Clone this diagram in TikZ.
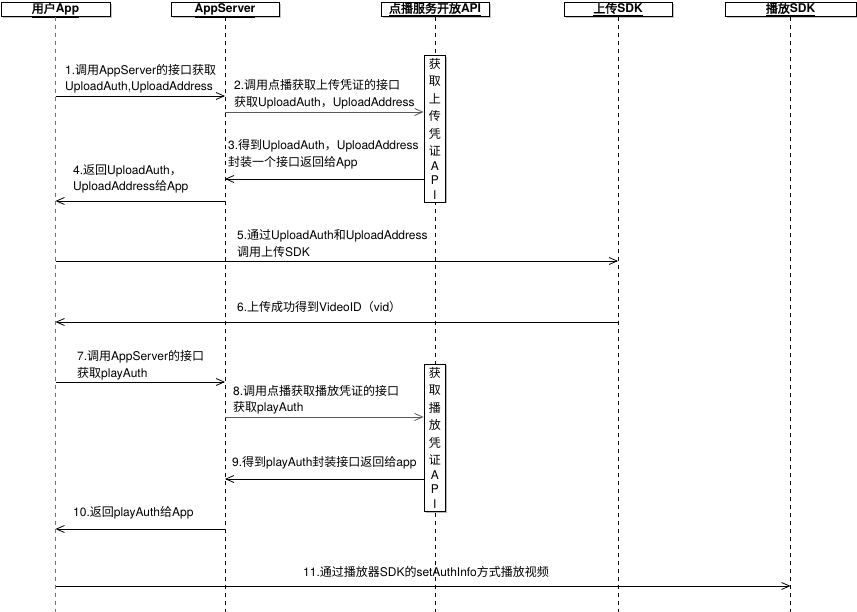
\documentclass[tikz,border=0pt]{standalone}
\usepackage{fontspec}
\setmainfont{TeX Gyre Heros}
\newfontfamily\cjk{Noto Sans CJK SC}[AutoFakeBold=2]
\newcommand\zh[1]{{\cjk #1}}
\usetikzlibrary{arrows.meta,shadows}
\begin{document}
\begin{tikzpicture}[x=1pt,y=-1pt,
  font=\fontsize{12}{16.5}\selectfont,
  head/.style={draw=black, line width=0.8pt, fill=white, inner sep=0pt,
    minimum height=13.5pt, text height=9pt, text depth=2.5pt,
    font=\fontsize{12}{14}\selectfont\bfseries,
    drop shadow={shadow xshift=1.5pt, shadow yshift=-1.5pt, fill=black!45}},
  act/.style={draw=black, line width=0.8pt, fill=white, inner sep=0pt,
    minimum width=21.5pt, align=center,
    font=\cjk\fontsize{12}{17.5}\selectfont,
    drop shadow={shadow xshift=1.5pt, shadow yshift=-1.5pt, fill=black!55}},
  life/.style={draw=black, line width=0.7pt, dash pattern=on 4pt off 4pt},
  msg/.style={draw=black, line width=0.8pt, -{Straight Barb[length=8pt,width=7pt]}},
  msgg/.style={msg, draw=black!65},
  lbl/.style={anchor=west, align=left, inner sep=0pt}]
\useasboundingbox (0,0) rectangle (857,612);
\fill[white] (0,0) rectangle (857,612);
\coordinate (bottom) at (0,612);

% lifelines heads
\node[head, minimum width=109pt] (app) at (55.5,9.5) {\underline{\zh{用户}App}};
\node[head, minimum width=108pt] (srv) at (225,9.5) {\underline{AppServer}};
\node[head, minimum width=108pt] (vod) at (435,9.5) {\underline{\zh{点播服务开放}API}};
\node[head, minimum width=108pt] (up) at (618,9.5) {\underline{\zh{上传}SDK}};
\node[head, minimum width=131pt] (play) at (790.5,9.5) {\underline{\zh{播放}SDK}};

% lifelines
\draw[life, draw=black!55] (app) -- (app |- bottom);
\draw[life] (srv) -- (srv |- bottom);
\draw[life] (vod) -- (vod |- bottom);
\draw[life] (up) -- (up |- bottom);
\draw[life] (play) -- (play |- bottom);

% activation boxes
\node[act, minimum height=146.3pt] (act1) at (434.75,128.85)
  {获\\取\\上\\传\\凭\\证\\[-3pt]{\rmfamily A}\\[-3pt]{\rmfamily P}\\[-3pt]{\rmfamily I}};
\node[act, minimum height=147pt] (act2) at (434.75,437.5)
  {获\\取\\播\\放\\凭\\证\\[-3pt]{\rmfamily A}\\[-3pt]{\rmfamily P}\\[-3pt]{\rmfamily I}};

% message rows
\coordinate (y1) at (0,96);
\coordinate (y2) at (0,112);
\coordinate (y3) at (0,179);
\coordinate (y4) at (0,201);
\coordinate (y5) at (0,261);
\coordinate (y6) at (0,322);
\coordinate (y7) at (0,382);
\coordinate (y8) at (0,417);
\coordinate (y9) at (0,479);
\coordinate (y10) at (0,529);
\coordinate (y11) at (0,586);

\draw[msg] (app |- y1) -- (srv |- y1);
\draw[msgg] (srv |- y2) -- (act1.west |- y2);
\draw[msg] (act1.west |- y3) -- (srv |- y3);
\draw[msg] (srv |- y4) -- (app |- y4);
\draw[msg] (app |- y5) -- (up |- y5);
\draw[msg] (up |- y6) -- (app |- y6);
\draw[msg] (app |- y7) -- (srv |- y7);
\draw[msgg] (srv |- y8) -- (act2.west |- y8);
\draw[msg] (act2.west |- y9) -- (srv |- y9);
\draw[msg] (srv |- y10) -- (app |- y10);
\draw[msg] (app |- y11) -- (play |- y11);

% labels
\node[lbl] (l1) at (65,78.5) {1.\zh{调用}AppServer\zh{的接口获取}\\UploadAuth,UploadAddress};
\node[lbl] (l2) at (234,94) {2.\zh{调用点播获取上传凭证的接口}\\\zh{获取}UploadAuth\zh{，}UploadAddress};
\node[lbl] (l3) at (228,154.5) {3.\zh{得到}UploadAuth\zh{，}UploadAddress\\\zh{封装一个接口返回给}App};
\node[lbl] (l4) at (73,179) {4.\zh{返回}UploadAuth\zh{，}\\UploadAddress\zh{给}App};
\node[lbl] (l5) at (237,243.5) {5.\zh{通过}UploadAuth\zh{和}UploadAddress\\\zh{调用上传}SDK};
\node[lbl] (l6) at (237,307) {6.\zh{上传成功得到}VideoID\zh{（}vid\zh{）}};
\node[lbl] (l7) at (77,365) {7.\zh{调用}AppServer\zh{的接口}\\\zh{获取}playAuth};
\node[lbl] (l8) at (233,399.5) {8.\zh{调用点播获取播放凭证的接口}\\\zh{获取}playAuth};
\node[lbl] (l9) at (232,463) {9.\zh{得到}playAuth\zh{封装接口返回给}app};
\node[lbl] (l10) at (73,513) {10.\zh{返回}playAuth\zh{给}App};
\node[inner sep=0pt] (l11) at (426,572) {11.\zh{通过播放器}SDK\zh{的}setAuthInfo\zh{方式播放视频}};
\end{tikzpicture}
\end{document}
